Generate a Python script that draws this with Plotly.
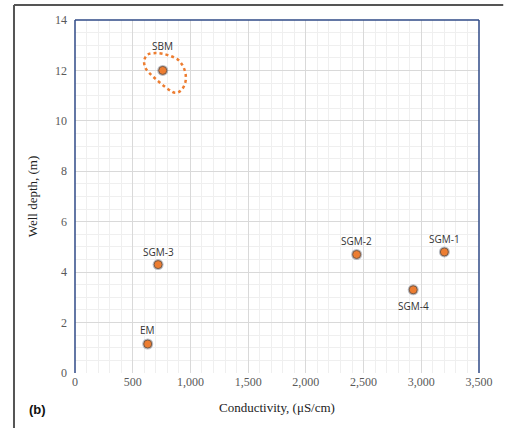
import plotly.graph_objects as go

# Sampling wells: conductivity vs. well depth
wells = ["SBM", "SGM-3", "EM", "SGM-2", "SGM-1", "SGM-4"]
conductivity = [760, 720, 630, 2440, 3200, 2930]
depth = [12.0, 4.3, 1.15, 4.7, 4.8, 3.3]
# vertical label offsets (pixels, + is above the point)
label_shift = [24, 13, 14, 13, 13, -16]

x_ticks = [0, 500, 1000, 1500, 2000, 2500, 3000, 3500]
x_tick_text = ["0", "500", "1,000", "1,500", "2,000", "2,500", "3,000", "3,500"]
y_ticks = [0, 2, 4, 6, 8, 10, 12, 14]

ORANGE = "#ED7D31"
FRAME_BLUE = "#2F4A87"
LABEL_FONT = dict(family="Open Sans, Liberation Sans, sans-serif", size=10, color="#333333")

fig = go.Figure()

# soft shadow under each marker
fig.add_trace(go.Scatter(
    x=conductivity, y=depth, mode="markers",
    marker=dict(size=11, color="rgba(60,70,90,0.35)", line=dict(width=0)),
    hoverinfo="skip", showlegend=False,
))
fig.add_trace(go.Scatter(
    x=conductivity, y=depth, mode="markers",
    marker=dict(size=8, color=ORANGE, line=dict(width=1, color="#7a5a44")),
    showlegend=False,
))

annotations = [
    dict(x=cx, y=cy, xref="x", yref="y", text=name, showarrow=False,
         yshift=shift, xanchor="center", yanchor="middle", font=LABEL_FONT)
    for name, cx, cy, shift in zip(wells, conductivity, depth, label_shift)
]
annotations.append(dict(
    text="<b>(b)</b>", xref="paper", yref="paper",
    x=-0.118, y=-0.103, xanchor="left", yanchor="middle",
    showarrow=False,
    font=dict(family="Liberation Sans, Arial, sans-serif", size=13, color="#111111"),
))

shapes = []
# dotted loop highlighting SBM (pixel offsets around the point)
shapes.append(dict(
    type="path", xref="x", yref="y",
    xsizemode="pixel", ysizemode="pixel",
    xanchor=conductivity[0], yanchor=depth[0],
    path=("M -15,16 C -8,19 5,17 15,11 "
          "C 22,5 25,-6 22,-14 "
          "C 19,-22 13,-24 9,-21 "
          "C 2,-17 -8,-8 -14,-2 "
          "C -20,4 -20,12 -15,16 Z"),
    line=dict(color=ORANGE, width=2.5, dash="dot"),
    fillcolor="rgba(0,0,0,0)",
))
# plot-area frame: blue on top, left and right
for x0, y0, x1, y1 in [(0, 1, 1, 1), (0, 0, 0, 1), (1, 0, 1, 1)]:
    shapes.append(dict(type="line", xref="paper", yref="paper",
                       x0=x0, y0=y0, x1=x1, y1=y1,
                       line=dict(color=FRAME_BLUE, width=1.5)))
# outer figure frame (top and left edges)
shapes.append(dict(type="line", xref="paper", yref="paper",
                   x0=-0.151, y0=1.0424, x1=1.06, y1=1.0424,
                   line=dict(color="#555555", width=2)))
shapes.append(dict(type="line", xref="paper", yref="paper",
                   x0=-0.151, y0=-0.16, x1=-0.151, y1=1.0424,
                   line=dict(color="#555555", width=2)))

fig.update_layout(
    width=505, height=428,
    margin=dict(l=75, r=20, t=20, b=54.5),
    paper_bgcolor="white", plot_bgcolor="white",
    shapes=shapes,
    annotations=annotations,
)

fig.update_xaxes(
    range=[0, 3500], tickvals=x_ticks, ticktext=x_tick_text,
    showline=False, zeroline=False,
    showgrid=True, gridcolor="#d9d9d9", gridwidth=1,
    minor=dict(dtick=100, showgrid=True, gridcolor="#efefef", gridwidth=1),
    ticks="", tickfont=dict(family="Liberation Serif, Times New Roman, serif", size=12, color="#595959"),
    title=dict(text="Conductivity, (μS/cm)", standoff=14,
               font=dict(family="Liberation Serif, Times New Roman, serif", size=13, color="#222222")),
)
fig.update_yaxes(
    range=[0, 14], tickvals=y_ticks,
    showline=False, zeroline=False,
    showgrid=True, gridcolor="#d9d9d9", gridwidth=1,
    minor=dict(dtick=0.5, showgrid=True, gridcolor="#efefef", gridwidth=1),
    ticks="", ticklabelstandoff=7,
    tickfont=dict(family="Liberation Serif, Times New Roman, serif", size=12, color="#595959"),
    title=dict(text="Well depth, (m)", standoff=14,
               font=dict(family="Liberation Serif, Times New Roman, serif", size=13, color="#222222")),
)

fig.write_html("out.html")
